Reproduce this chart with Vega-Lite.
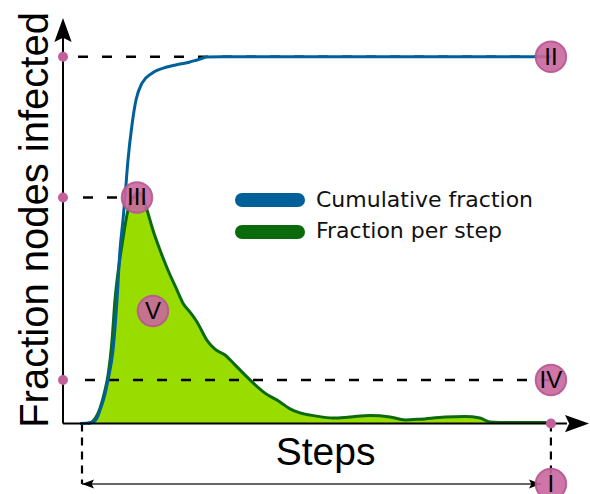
{
  "$schema": "https://vega.github.io/schema/vega-lite/v6.json",
  "width": 590,
  "height": 494,
  "autosize": {"type": "none"},
  "padding": 0,
  "background": "white",
  "config": {"view": {"stroke": null}},
  "datasets": {
    "cumulative": [
      {"step": 0, "fraction": 0}, {"step": 2.11, "fraction": 0.002}, {"step": 2.75, "fraction": 0.004},
      {"step": 3.6, "fraction": 0.015}, {"step": 4.24, "fraction": 0.037}, {"step": 5.09, "fraction": 0.07},
      {"step": 5.94, "fraction": 0.119}, {"step": 7.0, "fraction": 0.2}, {"step": 7.85, "fraction": 0.337},
      {"step": 8.48, "fraction": 0.473}, {"step": 9.12, "fraction": 0.555}, {"step": 9.55, "fraction": 0.617},
      {"step": 10.18, "fraction": 0.718}, {"step": 11.03, "fraction": 0.814}, {"step": 11.88, "fraction": 0.882},
      {"step": 13.16, "fraction": 0.928}, {"step": 15.28, "fraction": 0.955}, {"step": 18.47, "fraction": 0.972},
      {"step": 21.23, "fraction": 0.98}, {"step": 23.2, "fraction": 0.985}, {"step": 23.9, "fraction": 0.988},
      {"step": 24.84, "fraction": 0.991}, {"step": 26.96, "fraction": 0.999}, {"step": 30, "fraction": 1.0},
      {"step": 100, "fraction": 1.0}
    ],
    "perstep": [
      {"step": 1.69, "fraction": 0}, {"step": 2.75, "fraction": 0.007}, {"step": 4.24, "fraction": 0.042},
      {"step": 5.3, "fraction": 0.091}, {"step": 5.94, "fraction": 0.132}, {"step": 6.79, "fraction": 0.227},
      {"step": 7.42, "fraction": 0.337}, {"step": 8.27, "fraction": 0.432}, {"step": 8.91, "fraction": 0.487},
      {"step": 10.18, "fraction": 0.582}, {"step": 11.25, "fraction": 0.615}, {"step": 12.31, "fraction": 0.629},
      {"step": 13.16, "fraction": 0.621}, {"step": 14.22, "fraction": 0.582}, {"step": 15.49, "fraction": 0.527},
      {"step": 16.98, "fraction": 0.473}, {"step": 18.68, "fraction": 0.418}, {"step": 20.59, "fraction": 0.364},
      {"step": 21.86, "fraction": 0.328}, {"step": 23.35, "fraction": 0.304}, {"step": 24.84, "fraction": 0.277},
      {"step": 26.96, "fraction": 0.227}, {"step": 28.66, "fraction": 0.203}, {"step": 30.78, "fraction": 0.187},
      {"step": 32.91, "fraction": 0.16}, {"step": 36.09, "fraction": 0.119}, {"step": 39.28, "fraction": 0.083},
      {"step": 42.46, "fraction": 0.059}, {"step": 44.59, "fraction": 0.04}, {"step": 46.71, "fraction": 0.029},
      {"step": 49.9, "fraction": 0.021}, {"step": 53.72, "fraction": 0.015}, {"step": 57.33, "fraction": 0.018},
      {"step": 61.58, "fraction": 0.022}, {"step": 65.83, "fraction": 0.018}, {"step": 69.01, "fraction": 0.01},
      {"step": 72.2, "fraction": 0.012}, {"step": 77.5, "fraction": 0.018}, {"step": 81.75, "fraction": 0.019},
      {"step": 84.94, "fraction": 0.015}, {"step": 87.06, "fraction": 0.004}, {"step": 89.18, "fraction": 0.003},
      {"step": 100, "fraction": 0.003}
    ],
    "dashedH": [
      {"step": -0.435, "step2": 100, "fraction": 1, "fraction2": 1},
      {"step": 0.63, "step2": 12.09, "fraction": 0.6163, "fraction2": 0.6163},
      {"step": 1.05, "step2": 100, "fraction": 0.1188, "fraction2": 0.1188}
    ],
    "dashedV": [
      {"step": 0.414, "step2": 0.414, "fraction": 0, "fraction2": -0.1647},
      {"step": 100, "step2": 100, "fraction": 0, "fraction2": -0.1647}
    ],
    "axes": [
      {"step": -3.62, "step2": 103.4, "fraction": 0, "fraction2": 0},
      {"step": -3.62, "step2": -3.62, "fraction": 0, "fraction2": 1.059}
    ],
    "range": [
      {"step": 0.414, "step2": 97.89, "fraction": -0.1647, "fraction2": -0.1647}
    ],
    "arrowUp": [{"step": -3.62, "fraction": 1.0729}],
    "arrowRight": [{"step": 105.54, "fraction": 0}],
    "rangeRight": [{"step": 96.62, "fraction": -0.1647}],
    "rangeLeft": [{"step": 1.689, "fraction": -0.1647}],
    "dots": [
      {"step": -3.62, "fraction": 1}, {"step": -3.62, "fraction": 0.6163},
      {"step": -3.62, "fraction": 0.1188}, {"step": 100, "fraction": 0}
    ],
    "markers": [
      {"step": 100, "fraction": 1, "label": "II"},
      {"step": 12.09, "fraction": 0.6163, "label": "III"},
      {"step": 100, "fraction": 0.1188, "label": "IV"},
      {"step": 15.49, "fraction": 0.3069, "label": "V"},
      {"step": 100, "fraction": -0.1647, "label": "I"}
    ],
    "legendSwatch": [
      {"step": 34.39, "step2": 46.29, "fraction": 0.6095, "fraction2": 0.6095, "series": "Cumulative fraction"},
      {"step": 34.39, "step2": 46.29, "fraction": 0.5222, "fraction2": 0.5222, "series": "Fraction per step"}
    ],
    "legendText": [
      {"step": 50.11, "fraction": 0.589, "label": "Cumulative fraction"},
      {"step": 50.11, "fraction": 0.5067, "label": "Fraction per step"}
    ],
    "xTitle": [{"step": 52.13, "fraction": -0.1129, "label": "Steps"}],
    "yTitle": [{"step": -6.81, "fraction": 0.555, "label": "Fraction nodes infected"}]
  },
  "layer": [
    {
      "data": {"name": "perstep"},
      "mark": {"type": "area", "color": "#99dd00", "interpolate": "monotone"},
      "encoding": {
        "x": {"field": "step", "type": "quantitative", "scale": {"domain": [-17, 108.3], "nice": false, "zero": false}, "axis": null},
        "y": {"field": "fraction", "type": "quantitative", "stack": null, "scale": {"domain": [-0.192, 1.1546], "nice": false, "zero": false}, "axis": null},
        "y2": {"datum": 0}
      }
    },
    {
      "data": {"name": "perstep"},
      "mark": {"type": "line", "color": "#0b6a0b", "strokeWidth": 3, "interpolate": "monotone", "strokeJoin": "round"},
      "encoding": {
        "x": {"field": "step", "type": "quantitative", "scale": {"domain": [-17, 108.3], "nice": false, "zero": false}, "axis": null},
        "y": {"field": "fraction", "type": "quantitative", "scale": {"domain": [-0.192, 1.1546], "nice": false, "zero": false}, "axis": null}
      }
    },
    {
      "data": {"name": "dashedH"},
      "mark": {"type": "rule", "color": "black", "strokeWidth": 2.6, "strokeDash": [10, 14]},
      "encoding": {
        "x": {"field": "step", "type": "quantitative", "scale": {"domain": [-17, 108.3], "nice": false, "zero": false}, "axis": null},
        "x2": {"field": "step2"},
        "y": {"field": "fraction", "type": "quantitative", "scale": {"domain": [-0.192, 1.1546], "nice": false, "zero": false}, "axis": null},
        "y2": {"field": "fraction2"}
      }
    },
    {
      "data": {"name": "dashedV"},
      "mark": {"type": "rule", "color": "black", "strokeWidth": 2.2, "strokeDash": [8, 6]},
      "encoding": {
        "x": {"field": "step", "type": "quantitative", "scale": {"domain": [-17, 108.3], "nice": false, "zero": false}, "axis": null},
        "x2": {"field": "step2"},
        "y": {"field": "fraction", "type": "quantitative", "scale": {"domain": [-0.192, 1.1546], "nice": false, "zero": false}, "axis": null},
        "y2": {"field": "fraction2"}
      }
    },
    {
      "data": {"name": "cumulative"},
      "mark": {"type": "line", "color": "#00609a", "strokeWidth": 3, "interpolate": "monotone", "strokeJoin": "round"},
      "encoding": {
        "x": {"field": "step", "type": "quantitative", "scale": {"domain": [-17, 108.3], "nice": false, "zero": false}, "axis": null},
        "y": {"field": "fraction", "type": "quantitative", "scale": {"domain": [-0.192, 1.1546], "nice": false, "zero": false}, "axis": null}
      }
    },
    {
      "data": {"name": "axes"},
      "mark": {"type": "rule", "color": "black", "strokeWidth": 2},
      "encoding": {
        "x": {"field": "step", "type": "quantitative", "scale": {"domain": [-17, 108.3], "nice": false, "zero": false}, "axis": null},
        "x2": {"field": "step2"},
        "y": {"field": "fraction", "type": "quantitative", "scale": {"domain": [-0.192, 1.1546], "nice": false, "zero": false}, "axis": null},
        "y2": {"field": "fraction2"}
      }
    },
    {
      "data": {"name": "range"},
      "mark": {"type": "rule", "color": "#333333", "strokeWidth": 1.5},
      "encoding": {
        "x": {"field": "step", "type": "quantitative", "scale": {"domain": [-17, 108.3], "nice": false, "zero": false}, "axis": null},
        "x2": {"field": "step2"},
        "y": {"field": "fraction", "type": "quantitative", "scale": {"domain": [-0.192, 1.1546], "nice": false, "zero": false}, "axis": null},
        "y2": {"field": "fraction2"}
      }
    },
    {
      "data": {"name": "arrowUp"},
      "mark": {"type": "point", "shape": "M0,-1L0.72,1L0,0.65L-0.72,1Z", "size": 576, "filled": true, "color": "black", "opacity": 1},
      "encoding": {
        "x": {"field": "step", "type": "quantitative", "scale": {"domain": [-17, 108.3], "nice": false, "zero": false}, "axis": null},
        "y": {"field": "fraction", "type": "quantitative", "scale": {"domain": [-0.192, 1.1546], "nice": false, "zero": false}, "axis": null}
      }
    },
    {
      "data": {"name": "arrowRight"},
      "mark": {"type": "point", "shape": "M1,0L-1,0.72L-0.65,0L-1,-0.72Z", "size": 576, "filled": true, "color": "black", "opacity": 1},
      "encoding": {
        "x": {"field": "step", "type": "quantitative", "scale": {"domain": [-17, 108.3], "nice": false, "zero": false}, "axis": null},
        "y": {"field": "fraction", "type": "quantitative", "scale": {"domain": [-0.192, 1.1546], "nice": false, "zero": false}, "axis": null}
      }
    },
    {
      "data": {"name": "rangeRight"},
      "mark": {"type": "point", "shape": "M1,0L-1,0.75L-0.6,0L-1,-0.75Z", "size": 144, "filled": true, "color": "black", "opacity": 1},
      "encoding": {
        "x": {"field": "step", "type": "quantitative", "scale": {"domain": [-17, 108.3], "nice": false, "zero": false}, "axis": null},
        "y": {"field": "fraction", "type": "quantitative", "scale": {"domain": [-0.192, 1.1546], "nice": false, "zero": false}, "axis": null}
      }
    },
    {
      "data": {"name": "rangeLeft"},
      "mark": {"type": "point", "shape": "M-1,0L1,0.75L0.6,0L1,-0.75Z", "size": 144, "filled": true, "color": "black", "opacity": 1},
      "encoding": {
        "x": {"field": "step", "type": "quantitative", "scale": {"domain": [-17, 108.3], "nice": false, "zero": false}, "axis": null},
        "y": {"field": "fraction", "type": "quantitative", "scale": {"domain": [-0.192, 1.1546], "nice": false, "zero": false}, "axis": null}
      }
    },
    {
      "data": {"name": "dots"},
      "mark": {"type": "point", "shape": "circle", "size": 100, "filled": true, "color": "#c2609c", "opacity": 1},
      "encoding": {
        "x": {"field": "step", "type": "quantitative", "scale": {"domain": [-17, 108.3], "nice": false, "zero": false}, "axis": null},
        "y": {"field": "fraction", "type": "quantitative", "scale": {"domain": [-0.192, 1.1546], "nice": false, "zero": false}, "axis": null}
      }
    },
    {
      "data": {"name": "markers"},
      "mark": {"type": "point", "shape": "circle", "size": 930, "filled": true, "fill": "#c9679f", "fillOpacity": 0.9, "stroke": "#b85690", "strokeWidth": 2, "strokeOpacity": 0.9},
      "encoding": {
        "x": {"field": "step", "type": "quantitative", "scale": {"domain": [-17, 108.3], "nice": false, "zero": false}, "axis": null},
        "y": {"field": "fraction", "type": "quantitative", "scale": {"domain": [-0.192, 1.1546], "nice": false, "zero": false}, "axis": null}
      }
    },
    {
      "data": {"name": "markers"},
      "mark": {"type": "text", "font": "Liberation Sans", "fontSize": 24, "color": "black", "align": "center", "baseline": "middle", "dy": 1},
      "encoding": {
        "x": {"field": "step", "type": "quantitative", "scale": {"domain": [-17, 108.3], "nice": false, "zero": false}, "axis": null},
        "y": {"field": "fraction", "type": "quantitative", "scale": {"domain": [-0.192, 1.1546], "nice": false, "zero": false}, "axis": null},
        "text": {"field": "label"}
      }
    },
    {
      "data": {"name": "legendSwatch"},
      "mark": {"type": "rule", "strokeWidth": 14, "strokeCap": "round"},
      "encoding": {
        "x": {"field": "step", "type": "quantitative", "scale": {"domain": [-17, 108.3], "nice": false, "zero": false}, "axis": null},
        "x2": {"field": "step2"},
        "y": {"field": "fraction", "type": "quantitative", "scale": {"domain": [-0.192, 1.1546], "nice": false, "zero": false}, "axis": null},
        "y2": {"field": "fraction2"},
        "color": {"field": "series", "type": "nominal", "scale": {"domain": ["Cumulative fraction", "Fraction per step"], "range": ["#00609a", "#0b6a0b"]}, "legend": null}
      }
    },
    {
      "data": {"name": "legendText"},
      "mark": {"type": "text", "font": "DejaVu Sans", "fontSize": 22, "color": "#111111", "align": "left", "baseline": "alphabetic"},
      "encoding": {
        "x": {"field": "step", "type": "quantitative", "scale": {"domain": [-17, 108.3], "nice": false, "zero": false}, "axis": null},
        "y": {"field": "fraction", "type": "quantitative", "scale": {"domain": [-0.192, 1.1546], "nice": false, "zero": false}, "axis": null},
        "text": {"field": "label"}
      }
    },
    {
      "data": {"name": "xTitle"},
      "mark": {"type": "text", "font": "Liberation Sans", "fontSize": 39, "color": "black", "align": "center", "baseline": "alphabetic"},
      "encoding": {
        "x": {"field": "step", "type": "quantitative", "scale": {"domain": [-17, 108.3], "nice": false, "zero": false}, "axis": null},
        "y": {"field": "fraction", "type": "quantitative", "scale": {"domain": [-0.192, 1.1546], "nice": false, "zero": false}, "axis": null},
        "text": {"field": "label"}
      }
    },
    {
      "data": {"name": "yTitle"},
      "mark": {"type": "text", "font": "Liberation Sans", "fontSize": 40, "color": "black", "align": "center", "baseline": "alphabetic", "angle": 270},
      "encoding": {
        "x": {"field": "step", "type": "quantitative", "scale": {"domain": [-17, 108.3], "nice": false, "zero": false}, "axis": null},
        "y": {"field": "fraction", "type": "quantitative", "scale": {"domain": [-0.192, 1.1546], "nice": false, "zero": false}, "axis": null},
        "text": {"field": "label"}
      }
    }
  ]
}
